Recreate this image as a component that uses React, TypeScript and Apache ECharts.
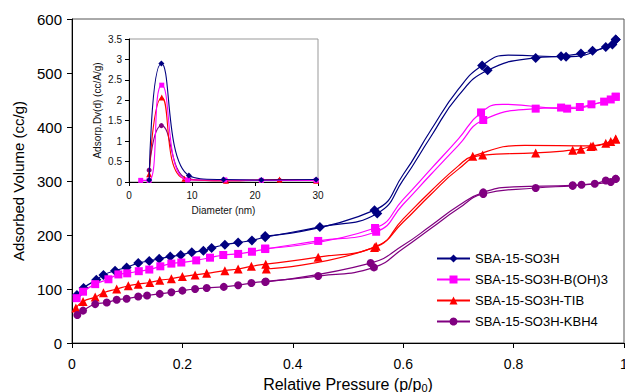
import React, { useEffect, useRef } from "react";
import * as echarts from "echarts";

// ---- Main isotherm data: [relative pressure, adsorbed volume, marker shown (1) or curve point only (0)] ----
const so3hAds = [[0.009,89,1],[0.021,102,1],[0.044,117,1],[0.057,126,1],[0.078,134,1],[0.099,140,1],[0.12,148,1],[0.14,152,1],[0.158,156,1],[0.178,160,1],[0.197,163,1],[0.217,168,1],[0.238,171,1],[0.253,176,1],[0.277,182,1],[0.301,186,1],[0.326,190,1],[0.35,196,1],[0.449,215,1],[0.553,240,1],[0.6,302,0],[0.65,382,0],[0.7,458,0],[0.753,505,1],[0.84,528,1],[0.886,531,1],[0.922,536,1],[0.943,541,1],[0.967,548,1],[0.985,562,1]];
const so3hDes = [[0.985,562,1],[0.979,553,1],[0.895,530,1],[0.79,533,0],[0.743,514,1],[0.7,470,0],[0.65,394,0],[0.6,312,0],[0.548,246,1],[0.35,198,1]];

const bohAds = [[0.0085,83,1],[0.02,95,1],[0.042,109,1],[0.066,118,1],[0.084,127,1],[0.1,129,1],[0.121,133,1],[0.14,136,1],[0.16,142,1],[0.18,147,1],[0.198,149,1],[0.225,153,1],[0.25,158,1],[0.274,163,1],[0.301,165,1],[0.326,169,1],[0.35,174,1],[0.446,189,1],[0.551,206,1],[0.6,257,0],[0.65,312,0],[0.7,366,0],[0.745,413,1],[0.84,434,1],[0.886,436,1],[0.92,437,1],[0.941,442,1],[0.964,447,1],[0.985,456,1]];
const bohDes = [[0.985,456,1],[0.976,451,1],[0.897,434,1],[0.78,442,0],[0.741,427,1],[0.7,378,0],[0.65,322,0],[0.6,266,0],[0.549,213,1],[0.35,175,1]];

const tibAds = [[0.007,65,1],[0.02,77,1],[0.042,85,1],[0.057,93,1],[0.081,100,1],[0.102,106,1],[0.12,109,1],[0.141,112,1],[0.159,116,1],[0.18,119,1],[0.2,123,1],[0.223,126,1],[0.244,129,1],[0.277,134,1],[0.301,137,1],[0.325,142,1],[0.351,146,1],[0.446,159,1],[0.551,179,1],[0.6,224,0],[0.65,275,0],[0.7,322,0],[0.744,348,1],[0.84,352,1],[0.907,357,1],[0.922,359,1],[0.94,364,1],[0.967,370,1],[0.985,378,1]];
const tibDes = [[0.985,378,1],[0.976,373,1],[0.944,365,1],[0.82,366,0],[0.726,346,1],[0.7,328,0],[0.65,281,0],[0.6,230,0],[0.548,177,1],[0.352,137,1]];

const kbhAds = [[0.0096,52,1],[0.02,60,1],[0.042,72,1],[0.063,75,1],[0.081,80,1],[0.099,82,1],[0.12,86,1],[0.136,88,1],[0.159,91,1],[0.18,94,1],[0.2,97,1],[0.223,100,1],[0.244,102,1],[0.275,104,1],[0.301,107,1],[0.325,111,1],[0.351,114,1],[0.446,124,1],[0.547,140,1],[0.6,175,0],[0.65,212,0],[0.7,249,0],[0.745,276,1],[0.84,287,1],[0.907,291,1],[0.923,293,1],[0.947,295,1],[0.967,301,1],[0.985,304,1]];
const kbhDes = [[0.985,304,1],[0.976,298,1],[0.907,292,1],[0.8,289,0],[0.745,279,1],[0.7,254,0],[0.65,217,0],[0.6,181,0],[0.541,148,1],[0.35,113,1]];

// ---- Inset pore size distribution: [diameter nm, dV(d)] ----
const so3hPsd = [[3.2,0.05],[5.14,2.9],[9.5,0.16],[15,0.06],[21,0.05],[29.7,0.06]];
const bohPsd = [[1.86,0.04],[3.2,0.04],[5.2,2.37],[9.3,0.05],[15.2,0.05],[21,0.04],[29.7,0.04]];
const tibPsd = [[3.2,0.19],[5.2,2.07],[8.8,0.08],[15.4,0.03],[23.9,0.06],[29.7,0.03]];
const kbhPsd = [[3.2,0.29],[5.14,1.38],[9.5,0.07],[15.4,0.03],[23.9,0.04],[29.7,0.04]];

const names = ["SBA-15-SO3H", "SBA-15-SO3H-B(OH)3", "SBA-15-SO3H-TIB", "SBA-15-SO3H-KBH4"];
const colors = ["#000080", "#FF00FF", "#FF0000", "#800080"];
const symbols = ["diamond", "rect", "triangle", "circle"];
const mainSizes = [10, 8, 9, 8];
const insetSizes = [6, 5, 6, 5];

const FONT = "'Liberation Sans', Arial, sans-serif";

function toItems(arr: number[][]) {
  return arr.map((p) => (p[2] ? { value: [p[0], p[1]] } : { value: [p[0], p[1]], symbol: "none" }));
}

export default function App() {
  const ref = useRef<HTMLDivElement>(null);
  useEffect(() => {
    if (!ref.current) return;
    const chart = echarts.init(ref.current, undefined, { renderer: "svg" });
    const ads = [so3hAds, bohAds, tibAds, kbhAds];
    const des = [so3hDes, bohDes, tibDes, kbhDes];
    const psd = [so3hPsd, bohPsd, tibPsd, kbhPsd];
    const series: any[] = [];
    for (let i = 0; i < 4; i++) {
      series.push({
        type: "line", name: names[i], data: toItems(ads[i]), xAxisIndex: 0, yAxisIndex: 0,
        smooth: 0.5, symbol: symbols[i], symbolSize: mainSizes[i], showAllSymbol: true,
        lineStyle: { color: colors[i], width: 1.2 }, itemStyle: { color: colors[i] },
        z: 3 + i,
      });
      series.push({
        type: "line", name: names[i] + " des", data: toItems(des[i]), xAxisIndex: 0, yAxisIndex: 0,
        smooth: 0.5, symbol: symbols[i], symbolSize: mainSizes[i], showAllSymbol: true,
        lineStyle: { color: colors[i], width: 1.2 }, itemStyle: { color: colors[i] },
        z: 3 + i,
      });
    }
    for (let i = 0; i < 4; i++) {
      series.push({
        type: "line", name: names[i] + " psd", data: psd[i], xAxisIndex: 1, yAxisIndex: 1,
        smooth: 0.5, symbol: symbols[i], symbolSize: insetSizes[i], showAllSymbol: true, clip: false,
        lineStyle: { color: colors[i], width: 1.1 }, itemStyle: { color: colors[i] },
        z: 10 - i,
      });
    }
    chart.setOption({
      animation: false,
      backgroundColor: "#fff",
      textStyle: { fontFamily: FONT },
      legend: {
        data: names, orient: "vertical", left: 431, top: 247,
        itemWidth: 33, itemHeight: 10, itemGap: 8,
        textStyle: { fontSize: 13, color: "#000", fontFamily: FONT },
      },
      grid: [
        { left: 72, top: 19, right: 1, bottom: 49, outerBoundsMode: "none", containLabel: false, show: true, borderColor: "#555", borderWidth: 1, backgroundColor: "transparent" },
        { left: 129, top: 39, width: 189, height: 143, outerBoundsMode: "none", containLabel: false, show: true, borderColor: "#999", borderWidth: 1, backgroundColor: "transparent" },
      ],
      xAxis: [
        {
          type: "value", gridIndex: 0, min: 0, max: 1, interval: 0.2,
          axisLine: { lineStyle: { color: "#000" } }, axisTick: { length: 5, lineStyle: { color: "#000" } },
          splitLine: { show: false },
          axisLabel: { fontSize: 14, color: "#000", margin: 14, fontFamily: FONT },
          name: "Relative Pressure (p/p{sub|0})", nameLocation: "middle", nameGap: 24,
          nameTextStyle: {
            fontSize: 16, color: "#000", fontFamily: FONT, lineHeight: 18,
            rich: { sub: { fontSize: 11, lineHeight: 11, verticalAlign: "bottom", color: "#000", fontFamily: FONT } },
          },
        },
        {
          type: "value", gridIndex: 1, min: 0, max: 30, interval: 10,
          axisLine: { lineStyle: { color: "#000" } }, axisTick: { length: 4, lineStyle: { color: "#000" } },
          splitLine: { show: false },
          axisLabel: { fontSize: 10, color: "#111", margin: 8, fontFamily: FONT },
          name: "Diameter (nm)", nameLocation: "middle", nameGap: 23,
          nameTextStyle: { fontSize: 10, color: "#111", fontFamily: FONT },
        },
      ],
      yAxis: [
        {
          type: "value", gridIndex: 0, min: 0, max: 600, interval: 100,
          axisLine: { show: true, lineStyle: { color: "#000" } }, axisTick: { show: true, length: 5, lineStyle: { color: "#000" } },
          splitLine: { show: false },
          axisLabel: { fontSize: 15, color: "#000", margin: 10, fontFamily: FONT },
          name: "Adsorbed Volume (cc/g)", nameLocation: "middle", nameGap: 46,
          nameTextStyle: { fontSize: 15, color: "#000", fontFamily: FONT },
        },
        {
          type: "value", gridIndex: 1, min: 0, max: 3.5, interval: 0.5,
          axisLine: { show: true, lineStyle: { color: "#000" } }, axisTick: { show: true, length: 4, lineStyle: { color: "#000" } },
          splitLine: { show: false },
          axisLabel: { fontSize: 10, color: "#111", margin: 7, fontFamily: FONT },
          name: "Adsorp.Dv(d) (cc/A/g)", nameLocation: "middle", nameGap: 27,
          nameTextStyle: { fontSize: 10, color: "#111", fontFamily: FONT },
        },
      ],
      series,
    });
    return () => chart.dispose();
  }, []);
  return (
    <div
      ref={ref}
      style={{ position: "fixed", left: 0, top: 0, width: 625, height: 392 }}
    />
  );
}
